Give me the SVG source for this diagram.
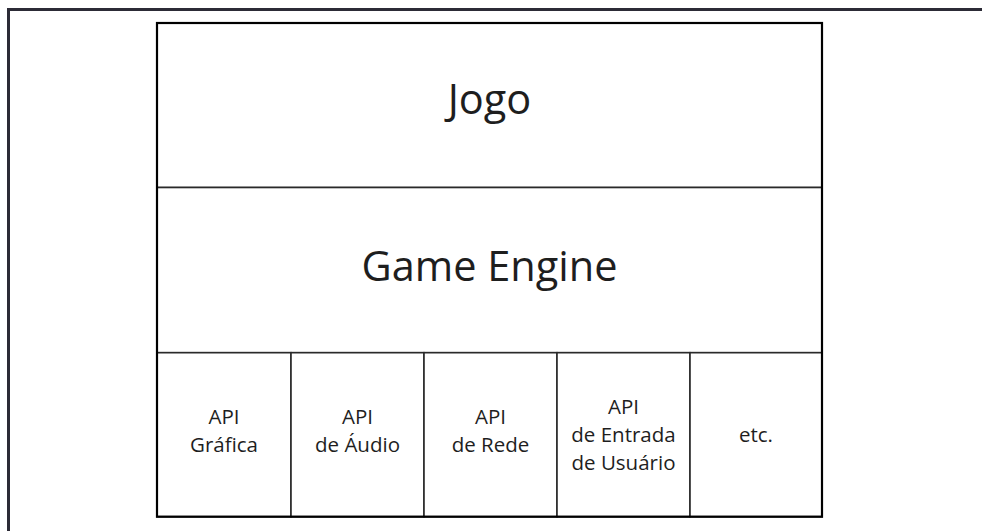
<svg xmlns="http://www.w3.org/2000/svg" width="982" height="531" viewBox="0 0 982 531">
  <style>
    .frame { fill: none; stroke: #2c2b36; stroke-width: 3; }
    .cell { fill: #ffffff; stroke: #2a2a2a; stroke-width: 1.6; }
    .outline { fill: none; stroke: #000000; stroke-width: 2.2; }
    .label { font-family: "Open Sans", "Noto Sans", "Liberation Sans", sans-serif; fill: #1e1e1e; text-anchor: middle; }
    .big { font-size: 41.5px; }
    .small { font-size: 20.5px; }
  </style>
  <rect width="982" height="531" fill="#ffffff"/>

  <!-- page frame: top and left edges only -->
  <path class="frame" d="M8.5,531 V9.5 H982"/>

  <g id="jogo">
    <rect class="cell" x="157" y="23" width="665" height="164.5"/>
    <text class="label big" x="489.5" y="113.5">Jogo</text>
  </g>

  <g id="game-engine">
    <rect class="cell" x="157" y="187.5" width="665" height="165.2"/>
    <text class="label big" x="489.5" y="281">Game Engine</text>
  </g>

  <g id="api-grafica">
    <rect class="cell" x="157" y="352.7" width="134" height="164"/>
    <text class="label small" x="224" y="423.5">API</text>
    <text class="label small" x="224" y="452">Gráfica</text>
  </g>

  <g id="api-audio">
    <rect class="cell" x="291" y="352.7" width="133" height="164"/>
    <text class="label small" x="357.5" y="423.5">API</text>
    <text class="label small" x="357.5" y="452">de Áudio</text>
  </g>

  <g id="api-rede">
    <rect class="cell" x="424" y="352.7" width="133" height="164"/>
    <text class="label small" x="490.5" y="423.5">API</text>
    <text class="label small" x="490.5" y="452">de Rede</text>
  </g>

  <g id="api-entrada">
    <rect class="cell" x="557" y="352.7" width="133" height="164"/>
    <text class="label small" x="623.5" y="414">API</text>
    <text class="label small" x="623.5" y="442">de Entrada</text>
    <text class="label small" x="623.5" y="470">de Usuário</text>
  </g>

  <g id="etc">
    <rect class="cell" x="690" y="352.7" width="132" height="164"/>
    <text class="label small" x="756" y="442">etc.</text>
  </g>

  <!-- heavier outer border of the stack -->
  <rect class="outline" x="157" y="23" width="665" height="493.7"/>

  <g id="connectors"/>
</svg>
